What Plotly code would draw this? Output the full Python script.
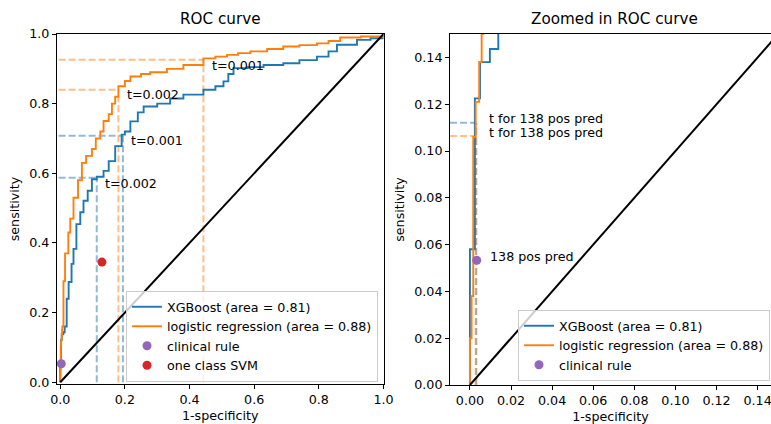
import plotly.graph_objects as go

# ---------------- data ----------------
xgb_fpr = [0, 0, 0.0024, 0.0049, 0.0097, 0.0138, 0.02, 0.026, 0.035, 0.041, 0.05, 0.062,
           0.072, 0.085, 0.098, 0.113, 0.134, 0.15, 0.17, 0.19, 0.2, 0.217, 0.24, 0.258,
           0.3, 0.34, 0.381, 0.443, 0.48, 0.505, 0.52, 0.536, 0.58, 0.629, 0.69, 0.74,
           0.794, 0.83, 0.856, 0.918, 0.96, 1.0, 1.0]
xgb_tpr = [0, 0.058, 0.1225, 0.138, 0.1436, 0.16, 0.24, 0.288, 0.34, 0.383, 0.454, 0.488,
           0.521, 0.55, 0.583, 0.59, 0.607, 0.635, 0.678, 0.711, 0.72, 0.749, 0.775, 0.792,
           0.80, 0.815, 0.826, 0.84, 0.85, 0.864, 0.885, 0.902, 0.905, 0.911, 0.916, 0.925,
           0.935, 0.95, 0.969, 0.983, 0.988, 0.99, 1.0]

lr_fpr = [0, 0, 0.0008, 0.0016, 0.0028, 0.0045, 0.0057, 0.0065, 0.01, 0.015, 0.025, 0.031,
          0.041, 0.055, 0.067, 0.08, 0.098, 0.11, 0.124, 0.134, 0.15, 0.16, 0.17, 0.18,
          0.2, 0.217, 0.25, 0.278, 0.33, 0.381, 0.443, 0.48, 0.516, 0.55, 0.588, 0.64,
          0.69, 0.74, 0.794, 0.83, 0.866, 0.93, 1.0, 1.0]
lr_tpr = [0, 0.02, 0.038, 0.106, 0.121, 0.138, 0.15, 0.16, 0.29, 0.37, 0.43, 0.47,
          0.53, 0.58, 0.63, 0.65, 0.67, 0.70, 0.72, 0.75, 0.77, 0.80, 0.82, 0.85,
          0.865, 0.878, 0.885, 0.89, 0.90, 0.911, 0.93, 0.935, 0.94, 0.945, 0.95, 0.957,
          0.964, 0.968, 0.973, 0.98, 0.99, 0.993, 0.995, 1.0]

# threshold points on the full ROC plot
xgb_thr_fpr = [0.113, 0.194]
xgb_thr_tpr = [0.587, 0.708]
xgb_thr_lbl = ["t=0.002", "t=0.001"]
lr_thr_fpr = [0.18, 0.443]
lr_thr_tpr = [0.84, 0.926]
lr_thr_lbl = ["t=0.002", "t=0.001"]

# threshold points for 138 positive predictions (zoomed plot)
pos_thr_fpr = [0.0031, 0.0028]   # XGBoost, logistic regression
pos_thr_tpr = [0.1121, 0.1064]
pos_thr_lbl = ["t for 138 pos pred", "t for 138 pos pred"]

clin_fpr = [0.0033]
clin_tpr = [0.0533]
clin_lbl = ["138 pos pred"]
svm_fpr = [0.129]
svm_tpr = [0.345]

diag = [0, 1]

BLUE = "#1f77b4"
ORANGE = "#ff7f0e"
PURPLE = "#9467bd"
RED = "#d62728"
BLUE_A = "rgba(31,119,180,0.5)"
ORANGE_A = "rgba(255,127,14,0.5)"
FONT = "DejaVu Sans"
FS = 12.7
DASH = "7px,3px"

W, H = 771, 424

fig = go.Figure()

def add_panel(xa, ya, legend, xmin, with_svm):
    # dashed threshold guides
    if xa == "x":
        groups = [(xgb_thr_fpr, xgb_thr_tpr, BLUE_A), (lr_thr_fpr, lr_thr_tpr, ORANGE_A)]
    else:
        groups = [([pos_thr_fpr[0]], [pos_thr_tpr[0]], BLUE_A),
                  ([pos_thr_fpr[1]], [pos_thr_tpr[1]], ORANGE_A)]
    for fx, ty, col in groups:
        for a, b in zip(fx, ty):
            fig.add_trace(go.Scatter(x=[xmin, a], y=[b, b], mode="lines", xaxis=xa, yaxis=ya,
                                     line=dict(color=col, width=2, dash=DASH),
                                     showlegend=False, hoverinfo="skip"))
            fig.add_trace(go.Scatter(x=[a, a], y=[0, b], mode="lines", xaxis=xa, yaxis=ya,
                                     line=dict(color=col, width=2, dash=DASH),
                                     showlegend=False, hoverinfo="skip"))
    fig.add_trace(go.Scatter(x=xgb_fpr, y=xgb_tpr, mode="lines", line_shape="hv",
                             line=dict(color=BLUE, width=1.9), xaxis=xa, yaxis=ya,
                             name="XGBoost (area = 0.81)", legend=legend))
    fig.add_trace(go.Scatter(x=lr_fpr, y=lr_tpr, mode="lines", line_shape="hv",
                             line=dict(color=ORANGE, width=1.9), xaxis=xa, yaxis=ya,
                             name="logistic regression (area = 0.88)", legend=legend))
    fig.add_trace(go.Scatter(x=diag, y=diag, mode="lines", line=dict(color="black", width=2),
                             xaxis=xa, yaxis=ya, showlegend=False, hoverinfo="skip"))
    fig.add_trace(go.Scatter(x=clin_fpr, y=clin_tpr, mode="markers",
                             marker=dict(color=PURPLE, size=9), xaxis=xa, yaxis=ya,
                             cliponaxis=False, name="clinical rule", legend=legend))
    if with_svm:
        fig.add_trace(go.Scatter(x=svm_fpr, y=svm_tpr, mode="markers",
                                 marker=dict(color=RED, size=9), xaxis=xa, yaxis=ya,
                                 cliponaxis=False, name="one class SVM", legend=legend))

add_panel("x", "y", "legend", -0.005, True)
add_panel("x2", "y2", "legend2", -0.0097, False)

annotations = []
for fx, ty, lb in [(xgb_thr_fpr, xgb_thr_tpr, xgb_thr_lbl), (lr_thr_fpr, lr_thr_tpr, lr_thr_lbl)]:
    for a, b, t in zip(fx, ty, lb):
        annotations.append(dict(x=a + 0.02, y=b - 0.015, xref="x", yref="y", text=t,
                                showarrow=False, xanchor="left", yanchor="middle",
                                font=dict(family=FONT, size=FS, color="black")))
for a, b, t in zip(pos_thr_fpr, pos_thr_tpr, pos_thr_lbl):
    annotations.append(dict(x=0.0084, y=b + 0.0016, xref="x2", yref="y2", text=t,
                            showarrow=False, xanchor="left", yanchor="middle",
                            font=dict(family=FONT, size=FS, color="black")))
for a, b, t in zip(clin_fpr, clin_tpr, clin_lbl):
    annotations.append(dict(x=a + 0.0055, y=b + 0.0015, xref="x2", yref="y2", text=t,
                            showarrow=False, xanchor="left", yanchor="middle",
                            font=dict(family=FONT, size=FS, color="black")))
annotations.append(dict(x=220 / W, y=1 - 19 / H, xref="paper", yref="paper", text="ROC curve",
                        showarrow=False, xanchor="center", yanchor="middle",
                        font=dict(family=FONT, size=15.2, color="black")))
annotations.append(dict(x=614 / W, y=1 - 19 / H, xref="paper", yref="paper",
                        text="Zoomed in ROC curve", showarrow=False, xanchor="center",
                        yanchor="middle", font=dict(family=FONT, size=15.2, color="black")))

axis_common = dict(showgrid=False, zeroline=False, showline=True, linecolor="black",
                   linewidth=1, ticks="outside", ticklen=4, tickwidth=1, tickcolor="black",
                   automargin=False, ticklabeloverflow="allow",
                   tickfont=dict(family=FONT, size=FS, color="black"))

fig.update_layout(
    width=W, height=H, margin=dict(l=0, r=0, t=0, b=0, autoexpand=False),
    paper_bgcolor="white", plot_bgcolor="white",
    font=dict(family=FONT, size=FS, color="black"),
    xaxis=dict(domain=[57 / W, 383.5 / W], range=[-0.01, 1.0], tickvals=[0, 0.2, 0.4, 0.6, 0.8, 1.0],
               tickformat=".1f", mirror=True, anchor="y",
               title=dict(text="1-specificity", standoff=4, font=dict(family=FONT, size=FS)),
               **axis_common),
    yaxis=dict(domain=[1 - 384 / H, 1 - 34 / H], range=[-0.005, 1.0],
               tickvals=[0, 0.2, 0.4, 0.6, 0.8, 1.0], tickformat=".1f", mirror=True, anchor="x",
               title=dict(text="sensitivity", standoff=6, font=dict(family=FONT, size=FS)),
               **axis_common),
    xaxis2=dict(domain=[450 / W, 1.0], range=[-0.0097, 0.1465],
                tickvals=[0, 0.02, 0.04, 0.06, 0.08, 0.1, 0.12, 0.14], tickformat=".2f",
                mirror=True, anchor="y2",
                title=dict(text="1-specificity", standoff=4, font=dict(family=FONT, size=FS)),
                **axis_common),
    yaxis2=dict(domain=[1 - 385 / H, 1 - 34 / H], range=[0, 0.15],
                tickvals=[0, 0.02, 0.04, 0.06, 0.08, 0.1, 0.12, 0.14], tickformat=".2f",
                mirror=False, anchor="x2",
                title=dict(text="sensitivity", standoff=6, font=dict(family=FONT, size=FS)),
                **axis_common),
    legend=dict(x=378 / W, y=1 - 382 / H, xanchor="right", yanchor="bottom",
                bgcolor="rgba(255,255,255,0.8)", bordercolor="#cccccc", borderwidth=1,
                font=dict(family=FONT, size=FS, color="black"), tracegroupgap=0),
    legend2=dict(x=770 / W, y=1 - 381 / H, xanchor="right", yanchor="bottom",
                 bgcolor="rgba(255,255,255,0.8)", bordercolor="#cccccc", borderwidth=1,
                 font=dict(family=FONT, size=FS, color="black"), tracegroupgap=0),
    annotations=annotations,
    showlegend=True,
)

fig.write_html("out.html", config={"displayModeBar": False},
               post_script="document.body.style.margin='0';document.body.style.overflow='hidden';")
